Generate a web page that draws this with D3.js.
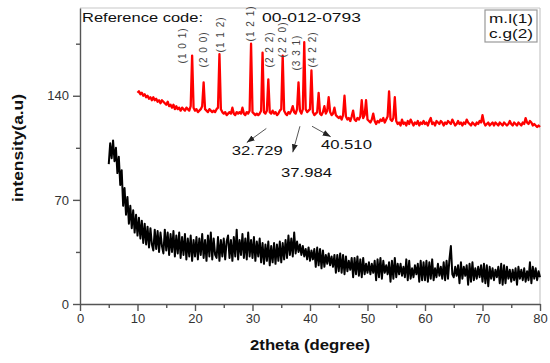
<!DOCTYPE html>
<html>
<head>
<meta charset="utf-8">
<style>
  body { margin: 0; background: #fff; }
  svg text { font-family: "Liberation Sans", Arial, sans-serif; }
</style>
</head>
<body>
<script src="https://d3js.org/d3.v7.min.js"></script>
<svg id="chart" width="550" height="363"></svg>
<script>
// sampled every 0.25 degree
var step = 0.25;

// c.g(2) black pattern, 5 -> 80 deg
var blackStart = 5;
var blackVals = [
  94, 108, 98, 110, 96, 105, 88, 99, 80, 90, 66, 78, 60, 72, 54, 66, 51, 63, 48, 60,
  46, 58, 44, 56, 41, 54, 40, 52, 38, 51, 40, 36, 50, 37, 49, 35, 48, 39, 34, 50,
  36, 48, 33, 47, 35, 49, 32, 46, 34, 48, 31, 45, 33, 47, 30, 44, 32, 46, 29, 43,
  32, 45, 30, 44, 33, 47, 31, 43, 29, 46, 32, 48, 30, 44, 33, 31, 45, 29, 43, 32,
  44, 30, 42, 46, 31, 43, 29, 45, 32, 50, 30, 43, 33, 47, 31, 44, 30, 48, 32, 43,
  31, 45, 29, 42, 32, 44, 28, 41, 27, 40, 29, 42, 26, 39, 28, 41, 27, 40, 29, 42,
  28, 41, 30, 43, 31, 46, 33, 44, 32, 48, 34, 42, 35, 40, 33, 39, 32, 37, 30, 38,
  29, 36, 30, 37, 25, 38, 26, 37, 24, 36, 25, 33, 27, 34, 26, 32, 25, 33, 21, 33,
  22, 34, 21, 33, 20, 32, 22, 29, 23, 31, 18, 31, 20, 32, 19, 30, 18, 31, 20, 27,
  21, 28, 20, 27, 21, 29, 16, 30, 18, 31, 17, 29, 21, 26, 20, 28, 15, 29, 17, 31,
  18, 27, 20, 27, 19, 25, 18, 30, 16, 29, 17, 24, 18, 26, 20, 27, 15, 29, 16, 28,
  16, 29, 15, 28, 17, 30, 16, 24, 18, 27, 19, 25, 17, 28, 16, 29, 17, 30, 39, 20,
  18, 25, 19, 26, 14, 28, 17, 25, 19, 26, 13, 27, 15, 28, 16, 24, 17, 25, 18, 26,
  15, 27, 14, 26, 12, 25, 17, 24, 16, 23, 18, 25, 14, 27, 13, 26, 14, 25, 17, 23,
  15, 23, 16, 24, 13, 25, 17, 23, 16, 24, 15, 22, 16, 28, 14, 25, 17, 24, 16, 22,
  18
];

// m.l(1) red pattern, 10 -> 80 deg
var redStart = 10;
var redVals = [
  142, 143, 141, 142, 140, 141, 139, 140, 138, 139, 137, 139, 137, 138, 136, 137, 135, 137, 136, 135,
  134, 136, 133, 134, 132, 134, 131, 133, 131, 132, 130, 132, 131, 130, 132, 131, 130, 133, 167, 132,
  130, 131, 129, 130, 131, 133, 149, 131, 130, 129, 131, 130, 129, 130, 129, 131, 132, 168, 131, 129,
  128, 129, 127, 128, 129, 128, 132, 128, 127, 129, 128, 129, 128, 132, 128, 127, 129, 128, 130, 175,
  129, 128, 127, 128, 127, 128, 130, 169, 129, 128, 130, 151, 129, 128, 130, 128, 129, 127, 128, 130,
  131, 167, 130, 128, 127, 129, 128, 130, 133, 129, 128, 131, 149, 130, 128, 131, 176, 131, 129, 130,
  131, 157, 129, 127, 128, 129, 142, 128, 127, 129, 133, 128, 130, 139, 129, 127, 128, 132, 127, 126,
  125, 126, 124, 127, 140, 126, 124, 125, 123, 126, 130, 124, 123, 125, 124, 126, 137, 125, 127, 137,
  124, 123, 122, 124, 128, 123, 121, 123, 122, 124, 123, 125, 122, 124, 126, 143, 124, 123, 125, 139,
  123, 121, 122, 120, 124, 121, 122, 120, 123, 121, 124, 122, 120, 122, 121, 123, 120, 122, 121, 123,
  121, 122, 120, 123, 125, 121, 122, 120, 123, 122, 121, 123, 122, 120, 122, 121, 123, 122, 121, 124,
  122, 120, 121, 123, 121, 122, 120, 122, 121, 124, 122, 121, 120, 122, 121, 120, 122, 121, 123, 122,
  127, 122, 120, 121, 122, 120, 121, 122, 120, 122, 121, 120, 122, 121, 120, 122, 121, 120, 121, 123,
  121, 120, 122, 121, 120, 122, 121, 120, 122, 121, 125, 122, 121, 123, 122, 120, 121, 120, 119, 120,
  119
];

var xTicks = [0, 10, 20, 30, 40, 50, 60, 70, 80];
var xMinor = [5, 15, 25, 35, 45, 55, 65, 75];
var yTicks = [0, 70, 140];
var yMinor = [35, 105, 175];

var hkl = ["(1 0 1)", "(2 0 0)", "(1 1 2)", "(1 2 1)", "(2 2 2)", "(2 2 0)", "(3 3 1)", "(4 2 2)"];
var hklAt = [[17.9, 173.5], [21.4, 170.8], [24.35, 180.9], [29.6, 188.3],
             [32.9, 170.8], [35.3, 177.5], [37.7, 168.7], [40.35, 170.8]];

var peakText = ["32.729", "37.984", "40.510"];
var arrows = [
  { from: [32.4, 118], to: [29.0, 108.5], text: [26.4, 103.5] },
  { from: [38.25, 119.5], to: [37.0, 102], text: [34.95, 88.7] },
  { from: [40.35, 119.5], to: [43.6, 112.5], text: [41.9, 107.6] }
];

var legendNames = ["m.l(1)", "c.g(2)"];

var svg = d3.select("#chart");
var x = d3.scaleLinear().domain([0, 80]).range([80, 540]);
var y = d3.scaleLinear().domain([0, 199]).range([304, 8]);

// frame (top / right light grey)
svg.append("line").attr("x1", 80).attr("x2", 540).attr("y1", 8).attr("y2", 8)
  .attr("stroke", "#c8c8c8").attr("stroke-width", 1.2);
svg.append("line").attr("x1", 540).attr("x2", 540).attr("y1", 8).attr("y2", 304)
  .attr("stroke", "#c8c8c8").attr("stroke-width", 1.2);

// lines
var line = function(start) {
  return d3.line().x((d, i) => x(start + i * step)).y(d => y(d));
};
svg.append("path").datum(blackVals)
  .attr("d", line(blackStart))
  .attr("fill", "none").attr("stroke", "#000").attr("stroke-width", 2)
  .attr("stroke-linejoin", "round");
svg.append("path").datum(redVals)
  .attr("d", line(redStart))
  .attr("fill", "none").attr("stroke", "#ff0000").attr("stroke-width", 2.3)
  .attr("stroke-linejoin", "round");

// axes
function styleAxis(g) {
  g.selectAll("path, line").attr("stroke", "#555").attr("stroke-width", 1.4);
  g.selectAll("text").attr("fill", "#333").style("font-size", "13px")
    .style("font-family", "'Liberation Sans', Arial, sans-serif");
}
svg.append("g").attr("transform", "translate(0,304)")
  .call(d3.axisBottom(x).tickValues(xTicks).tickSize(7).tickSizeOuter(0).tickPadding(3))
  .call(styleAxis);
svg.append("g").attr("transform", "translate(0,304)")
  .call(d3.axisBottom(x).tickValues(xMinor).tickSize(4).tickFormat(""))
  .call(g => g.select(".domain").remove())
  .call(styleAxis);
svg.append("g").attr("transform", "translate(80,0)")
  .call(d3.axisLeft(y).tickValues(yTicks).tickSize(7).tickSizeOuter(0).tickPadding(4))
  .call(styleAxis);
svg.append("g").attr("transform", "translate(80,0)")
  .call(d3.axisLeft(y).tickValues(yMinor).tickSize(4).tickFormat(""))
  .call(g => g.select(".domain").remove())
  .call(styleAxis);

// axis titles
svg.append("text").attr("x", 310).attr("y", 350).attr("text-anchor", "middle")
  .attr("font-weight", "bold").attr("font-size", 14).attr("fill", "#111")
  .attr("textLength", 120).attr("lengthAdjust", "spacingAndGlyphs")
  .text("2theta (degree)");
svg.append("text").attr("transform", "translate(23,148) rotate(-90)")
  .attr("text-anchor", "middle")
  .attr("font-weight", "bold").attr("font-size", 15).attr("fill", "#111")
  .attr("textLength", 108).attr("lengthAdjust", "spacingAndGlyphs")
  .text("intensity(a.u)");

// reference code header
svg.append("text").attr("x", 82).attr("y", 22).attr("font-size", 13.5).attr("fill", "#111")
  .attr("textLength", 121).attr("lengthAdjust", "spacingAndGlyphs")
  .text("Reference code:");
svg.append("text").attr("x", 262).attr("y", 22).attr("font-size", 13.5).attr("fill", "#111")
  .attr("textLength", 99).attr("lengthAdjust", "spacingAndGlyphs")
  .text("00-012-0793");

// hkl labels
svg.selectAll(".hkl").data(hkl).enter().append("text")
  .attr("class", "hkl")
  .attr("transform", (d, i) => "translate(" + x(hklAt[i][0]) + "," + y(hklAt[i][1]) + ") rotate(-90)")
  .attr("text-anchor", "middle").attr("dy", "0.35em")
  .attr("font-size", 10).attr("fill", "#444")
  .attr("textLength", 35).attr("lengthAdjust", "spacing")
  .text(d => d);

// arrows to peak positions
svg.append("defs").append("marker")
  .attr("id", "head").attr("viewBox", "0 0 8 6").attr("refX", 8).attr("refY", 3)
  .attr("markerWidth", 8).attr("markerHeight", 6).attr("markerUnits", "userSpaceOnUse")
  .attr("orient", "auto")
  .append("path").attr("d", "M0,0 L8,3 L0,6 Z").attr("fill", "#222");
svg.selectAll(".arrow").data(arrows).enter().append("line")
  .attr("class", "arrow")
  .attr("x1", d => x(d.from[0])).attr("y1", d => y(d.from[1]))
  .attr("x2", d => x(d.to[0])).attr("y2", d => y(d.to[1]))
  .attr("stroke", "#444").attr("stroke-width", 0.9)
  .attr("marker-end", "url(#head)");
svg.selectAll(".ptext").data(arrows).enter().append("text")
  .attr("class", "ptext")
  .attr("x", d => x(d.text[0])).attr("y", d => y(d.text[1])).attr("dy", "0.35em")
  .attr("font-size", 13).attr("fill", "#111")
  .attr("textLength", 51).attr("lengthAdjust", "spacingAndGlyphs")
  .text((d, i) => peakText[i]);

// legend box
svg.append("rect").attr("x", 485).attr("y", 10).attr("width", 52).attr("height", 32)
  .attr("fill", "#fff").attr("stroke", "#999").attr("stroke-width", 1.2);
svg.selectAll(".leg").data(legendNames).enter().append("text")
  .attr("class", "leg")
  .attr("x", 533).attr("y", (d, i) => 23 + i * 14.5)
  .attr("text-anchor", "end").attr("font-size", 13).attr("fill", "#111")
  .attr("textLength", 44).attr("lengthAdjust", "spacingAndGlyphs")
  .text(d => d);
</script>
</body>
</html>
